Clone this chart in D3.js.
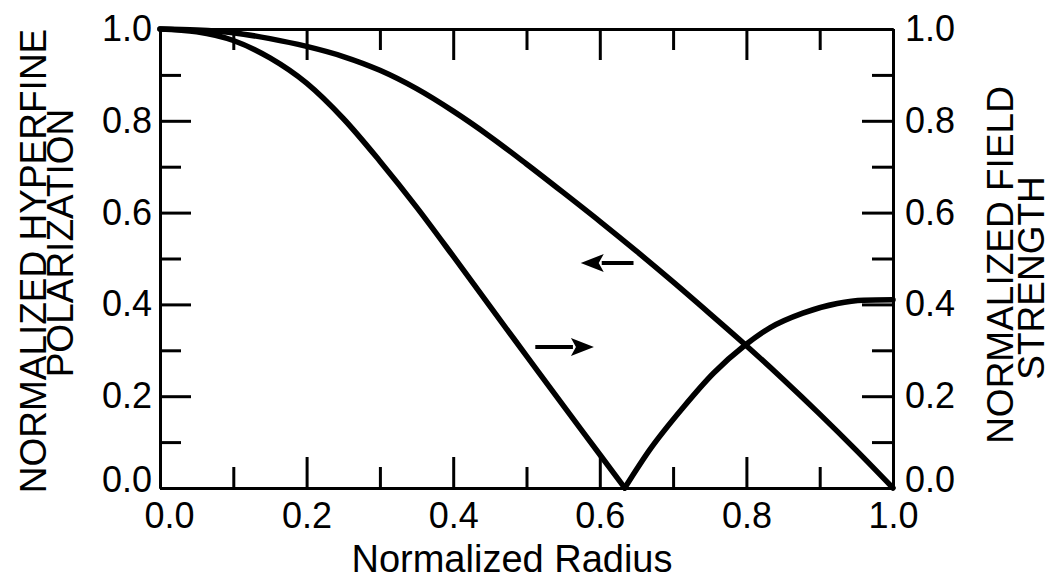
<!DOCTYPE html>
<html>
<head>
<meta charset="utf-8">
<script src="https://cdn.jsdelivr.net/npm/d3@7"></script>
<style>
  html, body { margin: 0; padding: 0; background: #fff; }
  svg { display: block; }
  text { font-family: "Liberation Sans", Arial, Helvetica, sans-serif; fill: #000; }
</style>
</head>
<body>
<svg id="chart" width="1055" height="583"></svg>
<script>
// ---- data ----
const xMajorTicks = [0.0, 0.2, 0.4, 0.6, 0.8, 1.0];
const xMinorTicks = [0.1, 0.3, 0.5, 0.7, 0.9];
const yMajorTicks = [0.0, 0.2, 0.4, 0.6, 0.8, 1.0];
const yMinorTicks = [0.1, 0.3, 0.5, 0.7, 0.9];

// Normalized hyperfine polarization (left axis)
const polR = [0.00, 0.05, 0.10, 0.15, 0.20, 0.25, 0.30, 0.35, 0.40, 0.45, 0.50, 0.55, 0.60, 0.65, 0.70, 0.75, 0.80, 0.85, 0.90, 0.95, 1.00];
const polV = [1.00, 0.998, 0.992, 0.979, 0.962, 0.940, 0.910, 0.870, 0.821, 0.766, 0.706, 0.644, 0.581, 0.516, 0.449, 0.380, 0.310, 0.237, 0.161, 0.082, 0.00];

// Normalized field strength (right axis)
const fieldR = [0.00, 0.05, 0.10, 0.15, 0.20, 0.25, 0.30, 0.35, 0.40, 0.45, 0.50, 0.55, 0.60, 0.634, 0.668, 0.714, 0.755, 0.798, 0.832, 0.877, 0.924, 0.960, 1.00];
const fieldV = [1.00, 0.994, 0.975, 0.937, 0.882, 0.805, 0.712, 0.612, 0.505, 0.396, 0.288, 0.180, 0.073, 0.00, 0.083, 0.176, 0.250, 0.311, 0.349, 0.381, 0.402, 0.409, 0.410];

// Arrow annotations: [tailR, tailV, tipR, tipV]
const arrowLeft  = [0.646, 0.49, 0.574, 0.49];
const arrowRight = [0.512, 0.307, 0.592, 0.307];

const xTitle = "Normalized Radius";
const yLeftTitle = ["NORMALIZED HYPERFINE", "POLARIZATION"];
const yRightTitle = ["NORMALIZED FIELD", "STRENGTH"];

// ---- layout ----
const svg = d3.select("#chart");
const L = 160, R = 893, T = 29, B = 488;
const x = d3.scaleLinear().domain([0, 1]).range([L, R]);
const y = d3.scaleLinear().domain([0, 1]).range([B, T]);

const fmt = d3.format(".1f");
const FS = 36;
const MAJ = 31, MIN = 21;

function styleAxis(g) {
  g.selectAll("path.domain").attr("stroke", "#000").attr("stroke-width", 3);
  g.selectAll(".tick line").attr("stroke", "#000").attr("stroke-width", 3);
  g.selectAll(".tick text").style("font-size", FS + "px").attr("fill", "#000");
}

// bottom
const gB = svg.append("g").attr("transform", `translate(0,${B})`)
  .call(d3.axisBottom(x).tickValues(xMajorTicks).tickFormat(fmt).tickSize(-MAJ).tickSizeOuter(0).tickPadding(14))
  .call(styleAxis);
gB.selectAll(".tick text").filter(d => d === 0).attr("dx", 9);
svg.append("g").attr("transform", `translate(0,${B})`)
  .call(d3.axisBottom(x).tickValues(xMinorTicks).tickFormat("").tickSize(-MIN).tickSizeOuter(0))
  .call(styleAxis);
// top
svg.append("g").attr("transform", `translate(0,${T})`)
  .call(d3.axisTop(x).tickValues(xMajorTicks).tickFormat("").tickSize(-MAJ).tickSizeOuter(0))
  .call(styleAxis);
svg.append("g").attr("transform", `translate(0,${T})`)
  .call(d3.axisTop(x).tickValues(xMinorTicks).tickFormat("").tickSize(-MIN).tickSizeOuter(0))
  .call(styleAxis);
// left
const gL = svg.append("g").attr("transform", `translate(${L},0)`)
  .call(d3.axisLeft(y).tickValues(yMajorTicks).tickFormat(fmt).tickSize(-MAJ).tickSizeOuter(0).tickPadding(8))
  .call(styleAxis);
gL.selectAll(".tick text").filter(d => d === 0).attr("y", -8);
svg.append("g").attr("transform", `translate(${L},0)`)
  .call(d3.axisLeft(y).tickValues(yMinorTicks).tickFormat("").tickSize(-MIN).tickSizeOuter(0))
  .call(styleAxis);
// right
const gR = svg.append("g").attr("transform", `translate(${R},0)`)
  .call(d3.axisRight(y).tickValues(yMajorTicks).tickFormat(fmt).tickSize(-MAJ).tickSizeOuter(0).tickPadding(12))
  .call(styleAxis);
gR.selectAll(".tick text").filter(d => d === 0).attr("y", -8);
svg.append("g").attr("transform", `translate(${R},0)`)
  .call(d3.axisRight(y).tickValues(yMinorTicks).tickFormat("").tickSize(-MIN).tickSizeOuter(0))
  .call(styleAxis);

// ---- curves ----
const line = d3.line().x(d => x(d[0])).y(d => y(d[1])).curve(d3.curveMonotoneX);
const pol = polR.map((r, i) => [r, polV[i]]);
const field = fieldR.map((r, i) => [r, fieldV[i]]);
const minIdx = d3.minIndex(fieldV);
const fieldA = field.slice(0, minIdx + 1);
const fieldB = field.slice(minIdx);

[pol, fieldA, fieldB].forEach(d => {
  svg.append("path").datum(d).attr("d", line)
    .attr("fill", "none").attr("stroke", "#000").attr("stroke-width", 5.5)
    .attr("stroke-linejoin", "round").attr("stroke-linecap", "round");
});

// ---- arrows ----
function drawArrow(a) {
  const x0 = x(a[0]), y0 = y(a[1]), x1 = x(a[2]), y1 = y(a[3]);
  const dir = Math.sign(x1 - x0);
  const headLen = 21, headHalf = 9;
  const bx = x1 - dir * headLen;
  svg.append("line").attr("x1", x0).attr("y1", y0).attr("x2", bx).attr("y2", y1)
    .attr("stroke", "#000").attr("stroke-width", 4);
  svg.append("path")
    .attr("d", `M${x1},${y1} L${bx - dir * 2},${y1 - headHalf} L${bx + dir * 3},${y1} L${bx - dir * 2},${y1 + headHalf} Z`)
    .attr("fill", "#000");
}
drawArrow(arrowLeft);
drawArrow(arrowRight);

// ---- titles ----
svg.append("text").attr("x", 512).attr("y", 572)
  .attr("text-anchor", "middle").style("font-size", "38px").text(xTitle);

svg.append("text").attr("transform", "translate(46,261) rotate(-90)")
  .attr("text-anchor", "middle").style("font-size", "37px").text(yLeftTitle[0]);
svg.append("text").attr("transform", "translate(73,243) rotate(-90)")
  .attr("text-anchor", "middle").style("font-size", "37px").text(yLeftTitle[1]);

svg.append("text").attr("transform", "translate(1013,265) rotate(-90)")
  .attr("text-anchor", "middle").style("font-size", "37px").text(yRightTitle[0]);
svg.append("text").attr("transform", "translate(1044,278) rotate(-90)")
  .attr("text-anchor", "middle").style("font-size", "37px").text(yRightTitle[1]);
</script>
</body>
</html>
